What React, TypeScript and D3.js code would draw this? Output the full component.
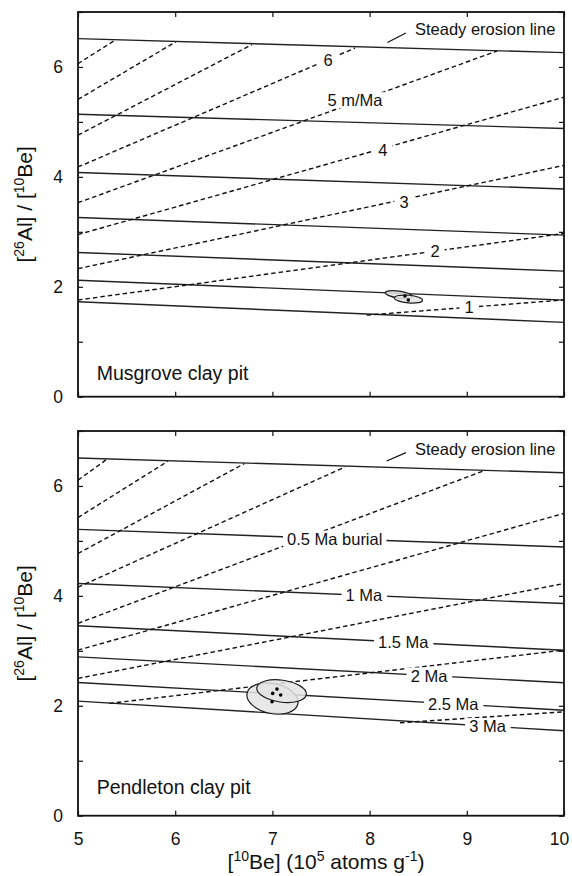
import React, { useEffect, useRef } from "react";
import * as d3 from "d3";

const W = 572;
const H = 876;

// ---------- axes ----------
const xDomain = [5, 10];
const yDomain = [0, 7];
const xTicks = [5, 6, 7, 8, 9, 10];
const xTickLabels = ["5", "6", "7", "8", "9", "10"];
const yTicks = [0, 1, 2, 3, 4, 5, 6, 7];
const yTickLabels = [0, 2, 4, 6];

// ---------- Musgrove clay pit (top) ----------
// solid lines: ratio at [10Be]=5 and at [10Be]=10
const musgroveSolidLeft = [6.516, 5.14, 4.08, 3.26, 2.625, 2.12, 1.727];
const musgroveSolidRight = [6.26, 4.88, 3.78, 2.94, 2.285, 1.758, 1.353];
// dashed erosion-rate lines: start [x, y] and end [x, y]
const musgroveDashStart = [
  [5, 6.06], [5, 5.41], [5, 4.76], [5, 4.18], [5, 3.53], [5, 2.95], [5, 2.33], [5, 1.76], [7.97, 1.485],
];
const musgroveDashEnd = [
  [5.38, 6.485], [6.005, 6.455], [6.79, 6.407], [7.85, 6.345], [9.31, 6.29], [10, 5.45], [10, 4.21], [10, 2.97], [10, 1.76],
];
const musgroveDashLabels = ["", "", "", "6", "5 m/Ma", "4", "3", "2", "1"];
const musgroveDashLabelPos = [
  null, null, null, [7.572, 6.122], [7.85, 5.395], [8.135, 4.485], [8.354, 3.545], [8.673, 2.655], [9.023, 1.625],
];
// sample uncertainty ellipses: [x, y, rx, ry, rotationDeg]
const musgroveEllipses = [
  [8.3, 1.858, 0.14, 0.062, 8],
  [8.4, 1.776, 0.145, 0.07, 5],
];
const musgroveDots = [
  [8.364, 1.831],
  [8.398, 1.758],
];

// ---------- Pendleton clay pit (bottom) ----------
const pendletonSolidLeft = [6.51, 5.21, 4.225, 3.455, 2.89, 2.425, 2.085];
const pendletonSolidRight = [6.24, 4.89, 3.86, 3.01, 2.42, 1.92, 1.545];
const pendletonSolidLabels = ["", "0.5 Ma burial", "1 Ma", "1.5 Ma", "2 Ma", "2.5 Ma", "3 Ma"];
const pendletonSolidLabelX = [null, 7.641, 7.942, 8.347, 8.611, 8.861, 9.213];
const pendletonDashStart = [
  [5, 6.105], [5, 5.425], [5, 4.771], [5, 4.158], [5, 3.5], [5, 3.013], [5, 2.498], [5.322, 2.044], [8.313, 1.691],
];
const pendletonDashEnd = [
  [5.306, 6.498], [5.923, 6.449], [6.711, 6.407], [7.747, 6.345], [9.17, 6.273], [9.993, 5.498], [10, 4.225], [10, 3.013], [10, 1.891],
];
const pendletonEllipses = [
  [7.001, 2.131, 0.267, 0.273, 12],
  [7.094, 2.267, 0.257, 0.2, 8],
];
const pendletonDots = [
  [7.047, 2.304],
  [7.003, 2.225],
  [7.085, 2.195],
  [6.996, 2.073],
];

// ---------- annotation text ----------
const steadyLabel = "Steady erosion line";
const steadyLabelPos = [[8.467, 6.576], [8.467, 6.558]];
const steadyPointer = [
  [[8.183, 6.444], [8.374, 6.618]],
  [[8.176, 6.455], [8.374, 6.607]],
];
const siteNames = ["Musgrove clay pit", "Pendleton clay pit"];
const siteNamePos = [[5.192, 0.304], [5.192, 0.395]];

const FONT = "'Liberation Sans', Arial, Helvetica, sans-serif";

export default function App() {
  const ref = useRef<SVGSVGElement | null>(null);

  useEffect(() => {
    const svg = d3.select(ref.current);
    svg.selectAll("*").remove();

    const x = d3.scaleLinear().domain(xDomain).range([78, 564]);
    const yTop = d3.scaleLinear().domain(yDomain).range([396.7, 12]);
    const yBot = d3.scaleLinear().domain(yDomain).range([815.7, 431]);

    const addBgLabel = (g: any, text: string, cx: number, cy: number, size: number, padX: number) => {
      const bg = g.append("rect").attr("fill", "white");
      const t = g
        .append("text")
        .attr("x", cx)
        .attr("y", cy)
        .attr("text-anchor", "middle")
        .attr("dominant-baseline", "central")
        .attr("font-family", FONT)
        .attr("font-size", size)
        .attr("fill", "#111")
        .text(text);
      const bb = (t.node() as SVGTextElement).getBBox();
      bg.attr("x", bb.x - padX)
        .attr("y", bb.y + 1)
        .attr("width", bb.width + 2 * padX)
        .attr("height", bb.height - 2);
    };

    const drawPanel = (idx: number, y: any, cfg: any) => {
      const g = svg.append("g");
      const lines = g.append("g");
      // solid lines
      cfg.solidLeft.forEach((l: number, i: number) => {
        lines
          .append("line")
          .attr("x1", x(5))
          .attr("y1", y(l))
          .attr("x2", x(10))
          .attr("y2", y(cfg.solidRight[i]))
          .attr("stroke", "#222")
          .attr("stroke-width", 1.4);
      });
      // dashed lines
      cfg.dashStart.forEach((s: number[], i: number) => {
        const e = cfg.dashEnd[i];
        lines
          .append("line")
          .attr("x1", x(s[0]))
          .attr("y1", y(s[1]))
          .attr("x2", x(e[0]))
          .attr("y2", y(e[1]))
          .attr("stroke", "#111")
          .attr("stroke-width", 1.4)
          .attr("stroke-dasharray", "4.5 3");
      });
      // ellipses
      cfg.ellipses.forEach((el: number[]) => {
        const cx = x(el[0]);
        const cy = y(el[1]);
        g.append("ellipse")
          .attr("cx", cx)
          .attr("cy", cy)
          .attr("rx", x(el[0] + el[2]) - cx)
          .attr("ry", cy - y(el[1] + el[3]))
          .attr("transform", `rotate(${el[4]},${cx},${cy})`)
          .attr("fill", "#e4e4e4")
          .attr("fill-opacity", 0.85)
          .attr("stroke", "#1a1a1a")
          .attr("stroke-width", 1.2);
      });
      cfg.dots.forEach((d: number[]) => {
        g.append("circle").attr("cx", x(d[0])).attr("cy", y(d[1])).attr("r", 1.8).attr("fill", "#000");
      });

      // labels on lines
      const lab = g.append("g");
      if (cfg.solidLabels) {
        cfg.solidLabels.forEach((t: string, i: number) => {
          if (!t) return;
          const lx = cfg.solidLabelX[i];
          const frac = (lx - 5) / 5;
          const ly = cfg.solidLeft[i] + frac * (cfg.solidRight[i] - cfg.solidLeft[i]);
          addBgLabel(lab, t, x(lx), y(ly), 16.5, 4);
        });
      }
      if (cfg.dashLabels) {
        cfg.dashLabels.forEach((t: string, i: number) => {
          if (!t) return;
          const p = cfg.dashLabelPos[i];
          addBgLabel(lab, t, x(p[0]), y(p[1]), 16.5, 5);
        });
      }

      // steady erosion text + pointer
      g.append("text")
        .attr("x", x(steadyLabelPos[idx][0]))
        .attr("y", y(steadyLabelPos[idx][1]))
        .attr("font-family", FONT)
        .attr("font-size", 16.5)
        .attr("fill", "#111")
        .text(steadyLabel);
      const pp = steadyPointer[idx];
      g.append("line")
        .attr("x1", x(pp[0][0]))
        .attr("y1", y(pp[0][1]))
        .attr("x2", x(pp[1][0]))
        .attr("y2", y(pp[1][1]))
        .attr("stroke", "#111")
        .attr("stroke-width", 1.2);

      // site name
      g.append("text")
        .attr("x", x(siteNamePos[idx][0]))
        .attr("y", y(siteNamePos[idx][1]))
        .attr("font-family", FONT)
        .attr("font-size", 19.5)
        .attr("fill", "#111")
        .text(siteNames[idx]);

      // axes (inward ticks)
      const axL = d3
        .axisLeft(y)
        .tickValues(yTicks)
        .tickSize(-5)
        .tickPadding(15)
        .tickFormat((d: any) => (yTickLabels.includes(d) ? String(d) : ""));
      const gl = g.append("g").attr("transform", `translate(${x(5)},0)`).call(axL);
      const axR = d3.axisRight(y).tickValues(yTicks).tickSize(-5).tickFormat(() => "");
      const gr = g.append("g").attr("transform", `translate(${x(10)},0)`).call(axR);
      const axT = d3.axisTop(x).tickValues(xTicks).tickSize(-5).tickFormat(() => "");
      const gt = g.append("g").attr("transform", `translate(0,${y(7)})`).call(axT);
      const axB = d3
        .axisBottom(x)
        .tickValues(xTicks)
        .tickSize(-5)
        .tickPadding(17)
        .tickFormat((d: any, i: number) => (cfg.showX ? xTickLabels[i] : ""));
      const gb = g.append("g").attr("transform", `translate(0,${y(0)})`).call(axB);
      [gl, gr, gt, gb].forEach((a) => {
        a.select(".domain").remove();
        a.selectAll("line").attr("stroke", "#111").attr("stroke-width", 1.2);
        a.selectAll("text").attr("font-family", FONT).attr("font-size", 17.5).attr("fill", "#111");
      });
      // keep the last x label inside the page
      gb.selectAll("text").filter((d: any) => d === 10).attr("dx", -5);

      // frame
      g.append("rect")
        .attr("x", x(5))
        .attr("y", y(7))
        .attr("width", x(10) - x(5))
        .attr("height", y(0) - y(7))
        .attr("fill", "none")
        .attr("stroke", "#111")
        .attr("stroke-width", 1.8);

      // y axis title
      const cy = (y(0) + y(7)) / 2;
      const yt = g
        .append("text")
        .attr("transform", `translate(32,${cy}) rotate(-90)`)
        .attr("text-anchor", "middle")
        .attr("font-family", FONT)
        .attr("font-size", 21)
        .attr("fill", "#111");
      yt.append("tspan").text("[");
      yt.append("tspan").attr("font-size", 14).attr("dy", -8).text("26");
      yt.append("tspan").attr("dy", 8).text("Al] / [");
      yt.append("tspan").attr("font-size", 14).attr("dy", -8).text("10");
      yt.append("tspan").attr("dy", 8).text("Be]");
    };

    drawPanel(0, yTop, {
      solidLeft: musgroveSolidLeft,
      solidRight: musgroveSolidRight,
      dashStart: musgroveDashStart,
      dashEnd: musgroveDashEnd,
      dashLabels: musgroveDashLabels,
      dashLabelPos: musgroveDashLabelPos,
      ellipses: musgroveEllipses,
      dots: musgroveDots,
      showX: false,
    });
    drawPanel(1, yBot, {
      solidLeft: pendletonSolidLeft,
      solidRight: pendletonSolidRight,
      solidLabels: pendletonSolidLabels,
      solidLabelX: pendletonSolidLabelX,
      dashStart: pendletonDashStart,
      dashEnd: pendletonDashEnd,
      ellipses: pendletonEllipses,
      dots: pendletonDots,
      showX: true,
    });

    // x axis title
    const xt = svg
      .append("text")
      .attr("x", 326)
      .attr("y", 869)
      .attr("text-anchor", "middle")
      .attr("font-family", FONT)
      .attr("font-size", 21)
      .attr("fill", "#111");
    xt.append("tspan").text("[");
    xt.append("tspan").attr("font-size", 14).attr("dy", -8).text("10");
    xt.append("tspan").attr("dy", 8).text("Be] (10");
    xt.append("tspan").attr("font-size", 14).attr("dy", -8).text("5");
    xt.append("tspan").attr("dy", 8).text(" atoms g");
    xt.append("tspan").attr("font-size", 14).attr("dy", -8).text("-1");
    xt.append("tspan").attr("dy", 8).text(")");
  }, []);

  return (
    <svg
      ref={ref}
      width={W}
      height={H}
      style={{ position: "absolute", left: 0, top: 0, background: "white" }}
    />
  );
}
